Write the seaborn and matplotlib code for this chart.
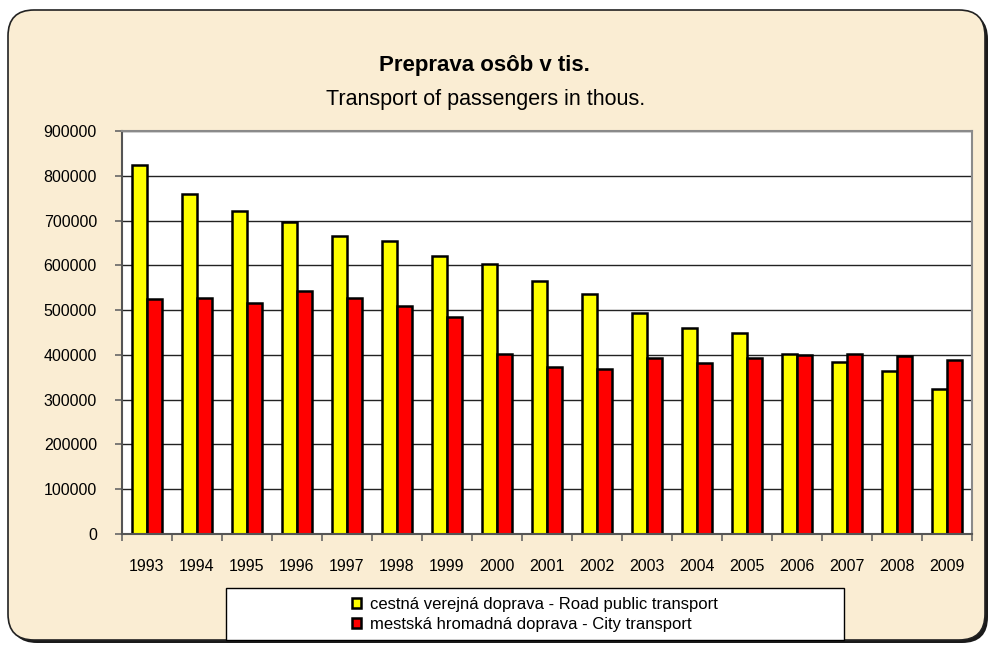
import pandas as pd
import numpy as np
import matplotlib
matplotlib.use("Agg")
import matplotlib.pyplot as plt
import seaborn as sns
from matplotlib.patches import FancyBboxPatch, Rectangle
from matplotlib.transforms import IdentityTransform
from matplotlib.ticker import FixedLocator

sns.set_style("white")
plt.rcParams['font.family'] = ['Liberation Sans', 'DejaVu Sans']
plt.rcParams['text.color'] = 'black'
plt.rcParams['xtick.color'] = 'black'
plt.rcParams['ytick.color'] = 'black'

years = ["1993", "1994", "1995", "1996", "1997", "1998", "1999", "2000", "2001",
         "2002", "2003", "2004", "2005", "2006", "2007", "2008", "2009"]
road = [824000, 760000, 721000, 697000, 666000, 655000, 620000, 603000, 565000,
        536000, 493000, 461000, 449000, 403000, 385000, 365000, 323000]
city = [525000, 528000, 515000, 542000, 526000, 510000, 485000, 403000, 372000,
        369000, 394000, 383000, 394000, 400000, 403000, 398000, 388000]
series = ["cestná verejná doprava - Road public transport",
          "mestská hromadná doprava - City transport"]
yticks = [0, 100000, 200000, 300000, 400000, 500000, 600000, 700000, 800000, 900000]

df = pd.DataFrame({
    "year": years * 2,
    "value": road + city,
    "series": [series[0]] * len(years) + [series[1]] * len(years),
})

W, H = 991, 646
fig = plt.figure(figsize=(W / 100, H / 100), dpi=100)
fig.patch.set_facecolor("white")

# rounded background with shadow
shadow = FancyBboxPatch((11, 3), 977, 630, boxstyle="round,pad=0,rounding_size=26",
                        transform=IdentityTransform(), facecolor="#1a1a1a",
                        edgecolor="none", zorder=-11)
bg = FancyBboxPatch((8, 6), 977, 630, boxstyle="round,pad=0,rounding_size=26",
                    transform=IdentityTransform(), facecolor="#FAEDD3",
                    edgecolor="#222222", linewidth=1.2, zorder=-10)
fig.add_artist(shadow)
fig.add_artist(bg)

ax = fig.add_axes([122 / W, 1 - 534 / H, 850 / W, 403 / H])
sns.barplot(data=df, x="year", y="value", hue="series", ax=ax,
            palette=["#FFFF00", "#FF0000"], saturation=1, width=0.6,
            edgecolor="black", linewidth=1.8, errorbar=None)

ax.set_facecolor("white")
ax.set_ylim(0, 900000)
ax.set_xlim(-0.5, len(years) - 0.5)
ax.set_yticks(yticks)
ax.set_yticklabels([str(v) for v in yticks])
ax.set_axisbelow(True)
ax.yaxis.grid(True, color="#222222", linewidth=1)
ax.set_xlabel("")
ax.set_ylabel("")

for lab in ax.get_yticklabels() + ax.get_xticklabels():
    lab.set_fontsize(11.5)
    lab.set_color("black")

ax.tick_params(axis="y", which="major", direction="out", length=5, width=1.2,
               color="#666666", pad=13, left=True)
ax.tick_params(axis="x", which="major", length=0, pad=18)
ax.xaxis.set_minor_locator(FixedLocator(np.arange(-0.5, len(years), 1)))
ax.tick_params(axis="x", which="minor", direction="out", length=5, width=1.2,
               color="#666666", bottom=True)

for name, sp in ax.spines.items():
    sp.set_visible(True)
    sp.set_linewidth(1.5)
    sp.set_color("#555555" if name in ("left", "bottom") else "#8a8a8a")

handles, labels = ax.get_legend_handles_labels()
ax.get_legend().remove()

fig.text(484 / W, 1 - 66 / H, "Preprava osôb v tis.", ha="center", va="center",
         fontsize=16, fontweight="bold", color="black")
fig.text(486 / W, 1 - 99 / H, "Transport of passengers in thous.", ha="center",
         va="center", fontsize=15.5, color="black")

box = Rectangle((226, H - 640), 618, 52, transform=IdentityTransform(),
                facecolor="white", edgecolor="black", linewidth=1, zorder=4)
fig.add_artist(box)
leg = fig.legend(handles, labels, loc="center", bbox_to_anchor=(535 / W, 1 - 614 / H),
                 frameon=False, fontsize=12, handlelength=0.55, handleheight=0.55,
                 handletextpad=0.5, labelspacing=0.3, borderaxespad=0)
leg.set_zorder(5)
for h in leg.legend_handles:
    h.set_edgecolor("black")
    h.set_linewidth(1.8)
for t in leg.get_texts():
    t.set_color("black")

fig.savefig("out.png", dpi=100)
